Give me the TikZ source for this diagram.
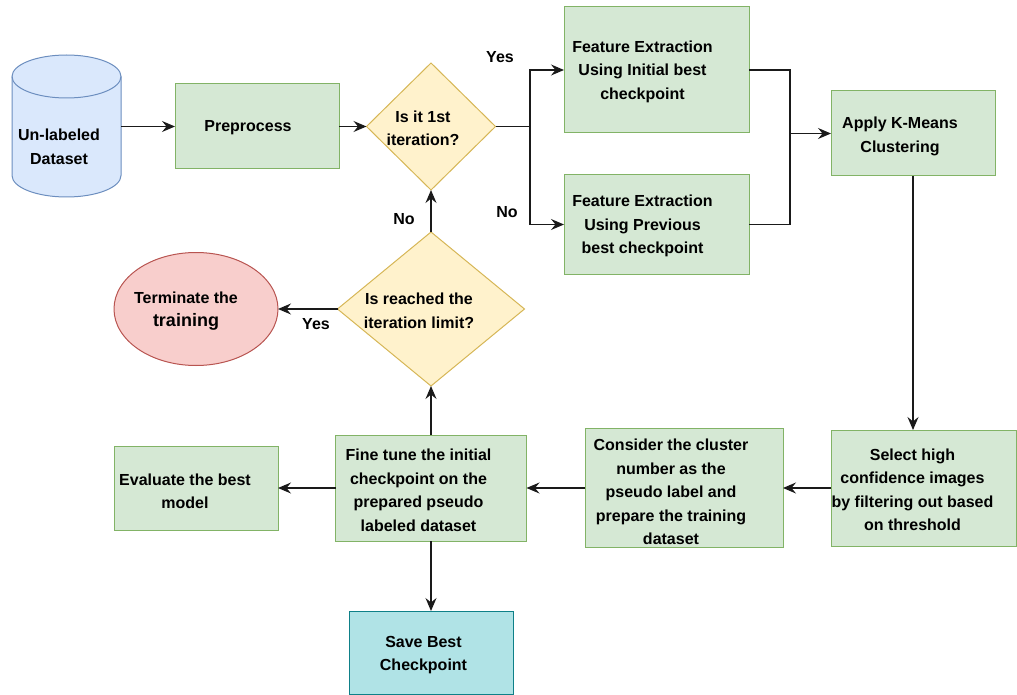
\documentclass[tikz,border=0pt]{standalone}
\usepackage{fontspec}
\setmainfont{Liberation Sans}
\usetikzlibrary{shapes.geometric,arrows.meta}
\definecolor{gfill}{HTML}{D5E8D4}
\definecolor{gdraw}{HTML}{82B366}
\definecolor{yfill}{HTML}{FFF2CC}
\definecolor{ydraw}{HTML}{D6B656}
\definecolor{bfill}{HTML}{DAE8FC}
\definecolor{bdraw}{HTML}{6C8EBF}
\definecolor{rfill}{HTML}{F8CECC}
\definecolor{rdraw}{HTML}{B85450}
\definecolor{cfill}{HTML}{B0E3E6}
\definecolor{cdraw}{HTML}{0E8088}
\definecolor{lncol}{HTML}{1A1A1A}
\tikzset{
  lbl/.style={font=\fontsize{16}{23.5}\selectfont\bfseries, align=center, text=black, inner sep=0},
  txt/.style n args={3}{label={[lbl,xshift=#1,yshift=#2]center:{#3}}},
  base/.style={line width=1pt, inner sep=0, outer sep=0},
  gbox/.style={base, rectangle, fill=gfill, draw=gdraw},
  cbox/.style={base, rectangle, fill=cfill, draw=cdraw},
  ydia/.style={base, diamond, fill=yfill, draw=ydraw},
  rell/.style={base, ellipse, fill=rfill, draw=rdraw},
  conn/.style={draw=lncol, line width=1.1pt},
  arr/.style={conn, -{Stealth[length=13pt,width=11pt,inset=4.5pt]}},
  edgelbl/.style={font=\fontsize{16}{20}\selectfont\bfseries, inner sep=0}
}
\begin{document}
\begin{tikzpicture}[x=1pt,y=-1pt]
\useasboundingbox (0,0) rectangle (1017,695);
% cylinder (database)
\path[fill=bfill, draw=bdraw, line width=1pt]
  (12,76.5) -- (12,175.5) arc[start angle=180, end angle=360, x radius=54.5pt, y radius=21.5pt]
  -- (121,76.5) arc[start angle=0, end angle=180, x radius=54.5pt, y radius=21.5pt] -- cycle;
\draw[draw=bdraw, line width=1pt] (12,76.5) arc[start angle=180, end angle=360, x radius=54.5pt, y radius=21.5pt];
\node[base, minimum width=109, minimum height=142, txt={-7.5}{-20.5}{Un-labeled\\Dataset}] (db) at (66.5,126.5) {};

\node[gbox, minimum width=164, minimum height=85, txt={-9}{-1.5}{Preprocess}] (pre) at (257,126.5) {};
\node[ydia, minimum width=129, minimum height=127, txt={-8}{-2}{Is it 1st\\iteration?}] (d1) at (431,126.5) {};
\node[gbox, minimum width=185, minimum height=126, txt={-14}{-1.5}{Feature Extraction\\Using Initial best\\checkpoint}] (fe1) at (656.5,70) {};
\node[gbox, minimum width=185, minimum height=99, txt={-14}{-1.5}{Feature Extraction\\Using Previous\\best checkpoint}] (fe2) at (656.5,224.5) {};
\node[gbox, minimum width=164, minimum height=85, txt={-13}{-3}{Apply K-Means\\Clustering}] (km) at (913,133.5) {};
\node[gbox, minimum width=185, minimum height=116, txt={-11}{-2}{Select high\\confidence images\\by filtering out based\\on threshold}] (sel) at (923.5,488) {};
\node[gbox, minimum width=198, minimum height=119, txt={-13}{-4}{Consider the cluster\\number as the\\pseudo label and\\prepare the training\\dataset}] (con) at (684,488) {};
\node[gbox, minimum width=191, minimum height=106, txt={-12.5}{-2.5}{Fine tune the initial\\checkpoint on the\\prepared pseudo\\labeled dataset}] (ft) at (431,488) {};
\node[gbox, minimum width=164, minimum height=84, txt={-11}{-3.5}{Evaluate the best\\model}] (ev) at (196,488) {};
\node[cbox, minimum width=164, minimum height=83, txt={-7.5}{-2.5}{Save Best\\Checkpoint}] (sv) at (431,652.5) {};
\node[ydia, minimum width=187, minimum height=154, txt={-12}{-2}{Is reached the\\iteration limit?}] (d2) at (431,309) {};
\node[rell, minimum width=164, minimum height=113, txt={-10}{-2}{Terminate the\\{\fontsize{18}{23.5}\selectfont training}}] (term) at (196,309) {};

% junctions
\coordinate (j1) at (530,126.5);
\coordinate (j2) at (790,133.5);

% connectors
\draw[arr] (db.east) -- (pre.west);
\draw[arr] (pre.east) -- (d1.west);
\draw[conn] (d1.east) -- (j1);
\draw[arr] (j1) |- (fe1.west);
\draw[arr] (j1) |- (fe2.west);
\draw[conn] (fe1.east) -| (j2);
\draw[conn] (fe2.east) -| (j2);
\draw[arr] (j2) -- (km.west);
\draw[arr] (km.south) -- (km.south |- sel.north);
\draw[arr] (sel.west) -- (con.east);
\draw[arr] (con.west) -- (ft.east);
\draw[arr] (ft.west) -- (ev.east);
\draw[arr] (ft.south) -- (sv.north);
\draw[arr] (ft.north) -- (d2.south);
\draw[arr] (d2.north) -- (d1.south);
\draw[arr] (d2.west) -- (term.east);

% edge labels
\node[edgelbl] (lyes1) at (500,57) {Yes};
\node[edgelbl] (lno1) at (507,212) {No};
\node[edgelbl] (lno2) at (404,219) {No};
\node[edgelbl] (lyes2) at (316,324) {Yes};
\end{tikzpicture}
\end{document}
